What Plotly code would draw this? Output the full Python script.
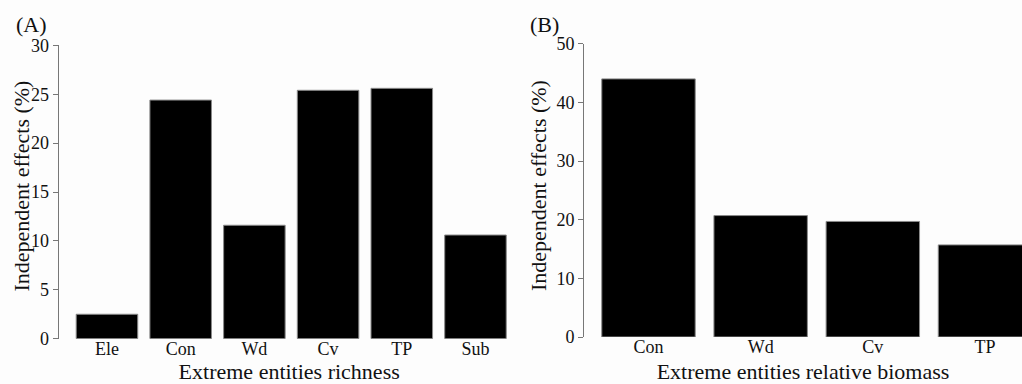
import plotly.graph_objects as go

# Panel A: Extreme entities richness
cats_a = ["Ele", "Con", "Wd", "Cv", "TP", "Sub"]
vals_a = [2.5, 24.4, 11.6, 25.4, 25.6, 10.6]
yticks_a = [0, 5, 10, 15, 20, 25, 30]

# Panel B: Extreme entities relative biomass
cats_b = ["Con", "Wd", "Cv", "TP"]
vals_b = [44.0, 20.7, 19.7, 15.7]
yticks_b = [0, 10, 20, 30, 40, 50]

YTITLE = "Independent effects (%)"
XTITLE_A = "Extreme entities richness"
XTITLE_B = "Extreme entities relative biomass"

FONT = "Liberation Serif, Times New Roman, serif"
W, H = 1022, 384

fig = go.Figure()
fig.add_trace(go.Bar(x=cats_a, y=vals_a, xaxis="x", yaxis="y",
                     marker=dict(color="black", line=dict(color="#8a8a8a", width=1)),
                     width=0.835, showlegend=False))
fig.add_trace(go.Bar(x=cats_b, y=vals_b, xaxis="x2", yaxis="y2",
                     marker=dict(color="black", line=dict(color="#8a8a8a", width=1)),
                     width=0.833, showlegend=False))

def px_x(p):
    return p / W

def px_y(p):
    return 1 - p / H

axis_common = dict(showgrid=False, zeroline=False, automargin=False,
                   tickfont=dict(family=FONT, size=18, color="#111"))
title_font = dict(family=FONT, size=22, color="#111")

fig.update_layout(
    width=W, height=H,
    margin=dict(l=0, r=0, t=0, b=0),
    paper_bgcolor="#fdfdfd", plot_bgcolor="#fdfdfd",
    font=dict(family=FONT, color="#111"),
    bargap=0.165,
    xaxis=dict(domain=[px_x(58.7), px_x(519.7)], anchor="y",
               range=[-0.655, 5.6], showline=False, ticks="", ticklabelstandoff=-3,
               title=dict(text=XTITLE_A, font=title_font, standoff=7),
               **axis_common),
    yaxis=dict(domain=[px_y(338.7), px_y(45.3)], anchor="x",
               range=[0, 30], tickvals=yticks_a, showline=True, linecolor="#777", linewidth=1,
               ticks="outside", ticklen=5, tickcolor="#777",
               **axis_common),
    xaxis2=dict(domain=[px_x(584), 1.0], anchor="y2",
                range=[-0.575, 3.33], showline=False, ticks="", ticklabelstandoff=-3,
                title=dict(text=XTITLE_B, font=title_font, standoff=7),
                **axis_common),
    yaxis2=dict(domain=[px_y(337), px_y(43.7)], anchor="x2",
                range=[0, 50], tickvals=yticks_b, showline=True, linecolor="#777", linewidth=1,
                ticks="outside", ticklen=5, tickcolor="#777",
                **axis_common),
    annotations=[
        dict(text=YTITLE, x=px_x(20.5), y=px_y(186), xref="paper", yref="paper",
             xanchor="center", yanchor="middle", textangle=-90, showarrow=False,
             font=title_font),
        dict(text=YTITLE, x=px_x(538), y=px_y(186), xref="paper", yref="paper",
             xanchor="center", yanchor="middle", textangle=-90, showarrow=False,
             font=title_font),
        dict(text="(A)", x=px_x(14), y=px_y(24), xref="paper", yref="paper",
             xanchor="left", yanchor="middle", showarrow=False,
             font=dict(family=FONT, size=22, color="#111")),
        dict(text="(B)", x=px_x(528), y=px_y(24), xref="paper", yref="paper",
             xanchor="left", yanchor="middle", showarrow=False,
             font=dict(family=FONT, size=22, color="#111")),
    ],
)

fig.write_html("out.html", config={"displayModeBar": False},
               post_script="document.body.style.margin='0';document.body.style.overflow='hidden';")
